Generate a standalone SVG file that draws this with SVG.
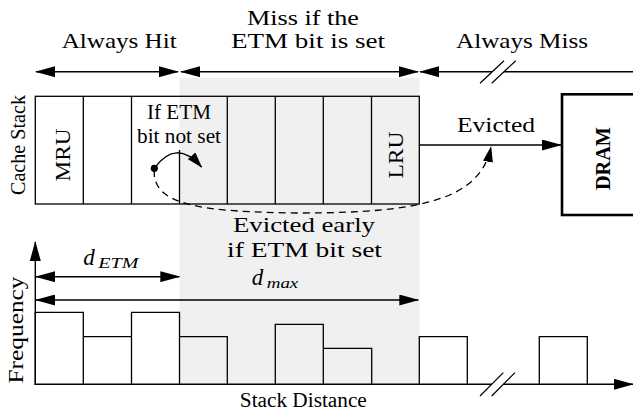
<svg xmlns="http://www.w3.org/2000/svg" width="633" height="415" viewBox="0 0 633 415" font-family="'Liberation Serif', 'DejaVu Serif', serif">
  <style>
    .ln { fill: none; stroke: #000; stroke-width: 1.4; }
    .thin { fill: none; stroke: #000; stroke-width: 1.2; }
    .cell { fill: none; stroke: #000; stroke-width: 1.3; }
    .dash { fill: none; stroke: #000; stroke-width: 1.3; stroke-dasharray: 7 5; }
    text { font-family: 'Liberation Serif', 'DejaVu Serif', serif; fill: #000; }
    .lab { font-size: 22px; text-anchor: middle; }
    .small { font-size: 20px; text-anchor: middle; }
    .it { font-style: italic; }
  </style>
  <defs>
    <marker id="ah" markerUnits="userSpaceOnUse" viewBox="0 0 20 11" markerWidth="20" markerHeight="11" refX="19" refY="5.5" orient="auto-start-reverse">
      <path d="M0,0 L20,5.5 L0,11 Z" fill="#000"/>
    </marker>
    <marker id="ahs" markerUnits="userSpaceOnUse" viewBox="0 0 16 10" markerWidth="16" markerHeight="10" refX="15" refY="5" orient="auto">
      <path d="M0,0 L16,5 L0,10 Z" fill="#000"/>
    </marker>
  </defs>

  <!-- shaded band: entries that miss when the ETM bit is set -->
  <rect id="etm-band" x="179.5" y="78" width="240" height="306.3" fill="#f0f0f0"/>

  <!-- region labels along the top -->
  <g id="regions">
    <text class="lab" x="119.2" y="47.7" textLength="115" lengthAdjust="spacingAndGlyphs">Always Hit</text>
    <text class="lab" x="303" y="25" textLength="112" lengthAdjust="spacingAndGlyphs">Miss if the</text>
    <text class="lab" x="308" y="48.3" textLength="154" lengthAdjust="spacingAndGlyphs">ETM bit is set</text>
    <text class="lab" x="522" y="47.7" textLength="132" lengthAdjust="spacingAndGlyphs">Always Miss</text>
  </g>

  <!-- cache stack, MRU on the left, LRU on the right -->
  <g id="cache-stack">
    <text class="small" transform="translate(25,145) rotate(-90)" textLength="100" lengthAdjust="spacingAndGlyphs">Cache Stack</text>
    <rect class="cell" x="35.3" y="96.3" width="384" height="107.7"/>
    <path class="cell" d="M83.3,96.3V204 M131.5,96.3V204 M179.5,150V204 M227.3,96.3V204 M275.3,96.3V204 M323.3,96.3V204 M371.5,96.3V204"/>
    <text class="lab" transform="translate(70,155) rotate(-90)" textLength="53" lengthAdjust="spacingAndGlyphs">MRU</text>
    <text class="lab" transform="translate(403,155) rotate(-90)" textLength="47" lengthAdjust="spacingAndGlyphs">LRU</text>
    <text class="small" x="179" y="119.3" textLength="64" lengthAdjust="spacingAndGlyphs">If ETM</text>
    <text class="small" x="179" y="143" textLength="84" lengthAdjust="spacingAndGlyphs">bit not set</text>
  </g>

  <!-- main memory -->
  <g id="dram">
    <rect x="562" y="94.3" width="100" height="120.7" fill="none" stroke="#000" stroke-width="2.6"/>
    <text transform="translate(610,158.5) rotate(-90)" font-size="20" font-weight="bold" text-anchor="middle" textLength="63" lengthAdjust="spacingAndGlyphs">DRAM</text>
  </g>

  <!-- stack-distance histogram -->
  <g id="histogram">
    <path class="cell" d="M35.3,384.3V312.3H83.3V384.3 M83.3,336.7H131.5V384.3 M131.5,336.7V312.3H179.5V384.3 M179.5,336.7H227.3V384.3
      M275.3,384.3V324.3H323.3V384.3 M323.3,348.3H371.7V384.3
      M419.3,384.3V336.7H467.3V384.3 M539.3,384.3V336.7H587.3V384.3"/>
    <text class="small" transform="translate(23,330) rotate(-90)" textLength="107" lengthAdjust="spacingAndGlyphs">Frequency</text>
    <text class="small" x="303.3" y="407" textLength="127" lengthAdjust="spacingAndGlyphs">Stack Distance</text>
    <text class="it" x="83.3" y="265" font-size="23">d</text>
    <text class="it" x="98.3" y="267.5" font-size="15" textLength="40" lengthAdjust="spacingAndGlyphs">ETM</text>
    <text class="it" x="251.7" y="285" font-size="23">d</text>
    <text class="it" x="266.7" y="287.5" font-size="15" textLength="31.6" lengthAdjust="spacingAndGlyphs">max</text>
    <text class="lab" x="304" y="232.3" textLength="142" lengthAdjust="spacingAndGlyphs">Evicted early</text>
    <text class="lab" x="304.5" y="256.7" textLength="155" lengthAdjust="spacingAndGlyphs">if ETM bit set</text>
  </g>

  <g id="connectors">
    <!-- region extents -->
    <line class="ln" x1="36" y1="71.7" x2="178" y2="71.7" marker-start="url(#ah)" marker-end="url(#ah)"/>
    <line class="ln" x1="181" y1="71.7" x2="418" y2="71.7" marker-start="url(#ah)" marker-end="url(#ah)"/>
    <line class="ln" x1="420" y1="71.7" x2="633" y2="71.7" marker-start="url(#ah)"/>
    <polygon points="486.7,77 498.4,66 510.1,66 498.4,77" fill="#fff"/>
    <path class="thin" d="M480,83.3L504,60.7 M491.7,83.3L515.7,60.7"/>

    <!-- axes -->
    <line class="ln" x1="35.3" y1="385" x2="35.3" y2="242" marker-end="url(#ah)"/>
    <line class="ln" x1="34.6" y1="384.3" x2="633" y2="384.3" marker-end="url(#ah)"/>
    <polygon points="486,390 497,379 508.7,379 497.7,390" fill="#fff"/>
    <path class="thin" d="M480,396L503.3,372.7 M491.7,396L515,372.7"/>

    <!-- distance markers -->
    <line class="ln" x1="36" y1="276.7" x2="179.3" y2="276.7" marker-start="url(#ah)" marker-end="url(#ah)"/>
    <line class="ln" x1="36" y1="300" x2="418.3" y2="300" marker-start="url(#ah)" marker-end="url(#ah)"/>

    <!-- eviction from LRU to DRAM -->
    <line class="ln" x1="419.3" y1="145" x2="561" y2="145" marker-end="url(#ah)"/>
    <text class="lab" x="496" y="131.7" textLength="78" lengthAdjust="spacingAndGlyphs">Evicted</text>

    <!-- insertion paths from the marked entry -->
    <circle cx="154.3" cy="168.3" r="3.6" fill="#000"/>
    <path class="ln" d="M154.3,168.3 Q176,138 201.5,167" marker-end="url(#ahs)"/>
    <path class="dash" d="M154.3,170 C152,205 200,212 300,213 C420,213 480,200 491,147" marker-end="url(#ahs)"/>
  </g>
</svg>
